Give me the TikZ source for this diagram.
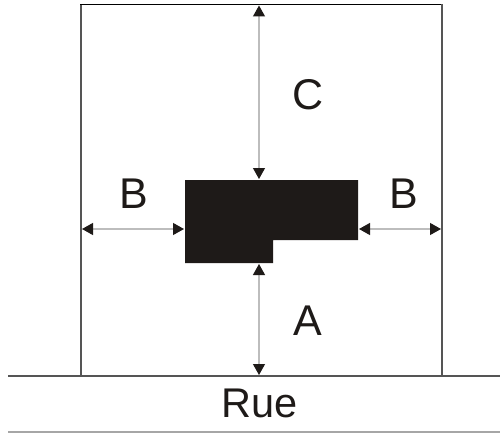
\documentclass[tikz,border=0pt]{standalone}
\usepackage{fontspec}
\setmainfont{Liberation Sans}
\usetikzlibrary{arrows.meta}
\definecolor{wallc}{HTML}{555555}
\definecolor{dimc}{HTML}{BDBDBD}
\definecolor{inkc}{HTML}{1E1A18}
\tikzset{
  wall/.style={draw=wallc,line width=1.5pt},
  dimline/.style={draw=dimc,line width=1.2pt,{Triangle[length=11pt,width=12pt,color=inkc]}-{Triangle[length=11pt,width=12pt,color=inkc]},shorten <=1pt,shorten >=1pt},
  lbl/.style={font=\fontsize{43}{43}\selectfont,text=inkc,inner sep=0pt}
}
\begin{document}
\begin{tikzpicture}[x=1pt,y=-1pt]
\useasboundingbox (0,0) rectangle (500,433);
% plot
\draw[wall] (81,376) -- (81,4.5);
\draw[draw=black,line width=1.5pt] (80.3,4.5) -- (442.7,4.5);
\draw[wall] (442,4.5) -- (442,376);
% road
\draw[wall] (8,376) -- (500,376);
\draw[draw=gray!70,line width=1.2pt] (8,432) -- (500,432);
% building
\fill[inkc] (185,180) -- (358,180) -- (358,240) -- (273,240) -- (273,263) -- (185,263) -- cycle;
\coordinate (wallL) at (81,229);
\coordinate (wallR) at (442,229);
\coordinate (bldL) at (185,229);
\coordinate (bldR) at (358,229);
\coordinate (top) at (259,4.5);
\coordinate (bldT) at (259,180);
\coordinate (bldB) at (259,263);
\coordinate (road) at (259,376);
\draw[dimline] (wallL) -- (bldL);
\draw[dimline] (bldR) -- (wallR);
\draw[dimline] (top) -- (bldT);
\draw[dimline] (bldB) -- (road);
\node[lbl] (c) at (308,95) {C};
\node[lbl] (bl) at (134,194) {B};
\node[lbl] (br) at (403.5,194) {B};
\node[lbl] (a) at (308,321) {A};
\node[lbl,font=\fontsize{41.5}{41.5}\selectfont,anchor=base] (rue) at (259.5,417) {Rue};
\end{tikzpicture}
\end{document}
